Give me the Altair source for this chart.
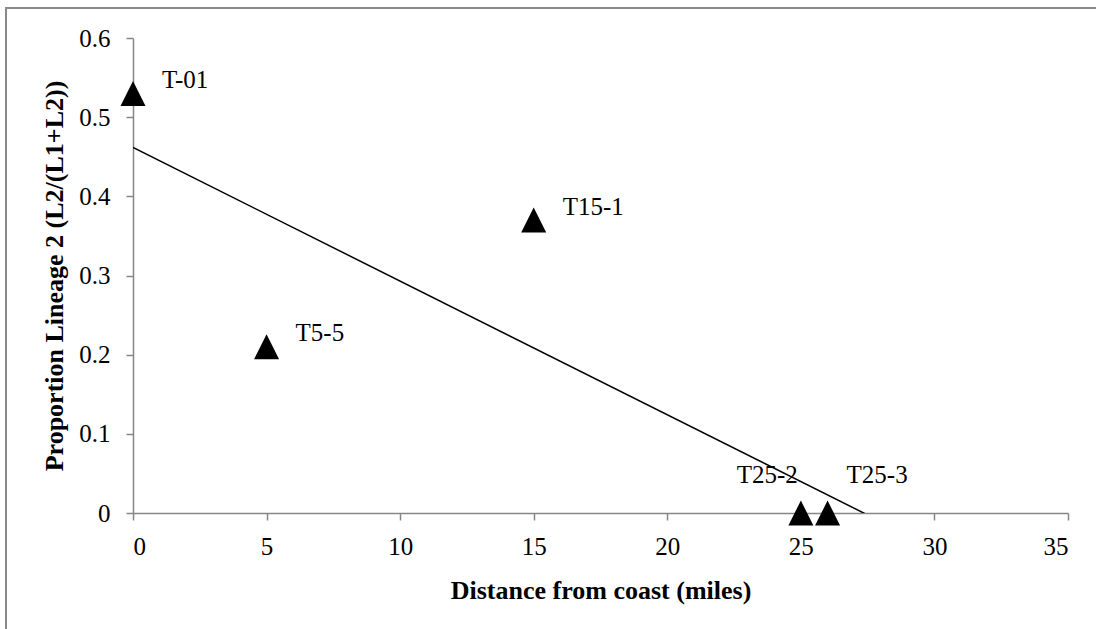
import altair as alt
import pandas as pd

# Sampling sites along the transect
sites = ["T-01", "T5-5", "T15-1", "T25-2", "T25-3"]
distance_miles = [0, 5, 15, 25, 26]
proportion_l2 = [0.53, 0.21, 0.37, 0.0, 0.0]

x_ticks = [0, 5, 10, 15, 20, 25, 30, 35]
y_ticks = [0, 0.1, 0.2, 0.3, 0.4, 0.5, 0.6]

df = pd.DataFrame({"site": sites, "distance": distance_miles, "prop": proportion_l2})

SERIF = "Liberation Serif"
AXIS_GRAY = "#868686"
W, H = 935, 475
PAD = {"left": 133, "top": 38, "right": 28, "bottom": 116}

x_enc = alt.X(
    "distance:Q",
    scale=alt.Scale(domain=[0, 35], nice=False, zero=False),
    axis=alt.Axis(
        values=x_ticks,
        title="Distance from coast (miles)",
        labelPadding=14,
        titleY=85,
        titleBaseline="alphabetic",
    ),
)
y_enc = alt.Y(
    "prop:Q",
    scale=alt.Scale(domain=[0, 0.6], nice=False),
    axis=alt.Axis(
        values=y_ticks,
        format="~g",
        title="Proportion Lineage 2 (L2/(L1+L2))",
        labelPadding=16,
        titleAngle=270,
        titleX=-71,
        titleY=H / 2,
        titleAlign="center",
        titleBaseline="alphabetic",
    ),
)

base = alt.Chart(df)

# Least-squares trend line, clipped where it meets the x axis
trend = base.mark_line(color="black", strokeWidth=1.5, clip=True).transform_regression(
    "distance", "prop", extent=[0, 35]
).encode(x=x_enc, y=y_enc)

points = base.mark_point(
    shape="M-1,1L1,1L0,-1Z", size=625, filled=True, color="black", opacity=1, strokeWidth=0
).encode(x=x_enc, y=y_enc)

label_style = dict(font=SERIF, fontSize=25, color="black", baseline="alphabetic")

labels_right = base.transform_filter(
    alt.FieldOneOfPredicate(field="site", oneOf=["T-01", "T5-5", "T15-1"])
).mark_text(align="left", dx=29, dy=-5.5, **label_style).encode(x=x_enc, y=y_enc, text="site:N")

label_t25_2 = base.transform_filter(alt.datum.site == "T25-2").mark_text(
    align="right", dx=-3, dy=-30, **label_style
).encode(x=x_enc, y=y_enc, text="site:N")

label_t25_3 = base.transform_filter(alt.datum.site == "T25-3").mark_text(
    align="left", dx=19, dy=-30, **label_style
).encode(x=x_enc, y=y_enc, text="site:N")

# Outer chart frame
frame = alt.Chart(pd.DataFrame({"f": [0]})).mark_rect(
    filled=False, stroke="#898989", strokeWidth=2
).encode(
    x=alt.value(6 - PAD["left"]),
    x2=alt.value(W + PAD["right"] + 20),
    y=alt.value(8 - PAD["top"]),
    y2=alt.value(H + PAD["bottom"] + 20),
)

chart = (
    alt.layer(frame, trend, points, labels_right, label_t25_2, label_t25_3)
    .properties(
        width=W,
        height=H,
        padding=PAD,
        autosize=alt.AutoSizeParams(type="none"),
        background="white",
    )
    .configure_view(stroke=None)
    .configure_axis(
        grid=False,
        domainColor=AXIS_GRAY,
        domainWidth=1.5,
        tickColor=AXIS_GRAY,
        tickWidth=1.5,
        tickSize=7,
        labelFont=SERIF,
        labelFontSize=25,
        labelColor="black",
        titleFont=SERIF,
        titleFontSize=26,
        titleFontWeight="bold",
        titleColor="black",
    )
)

chart.save("out.html", embed_options={"renderer": "svg", "actions": False})
